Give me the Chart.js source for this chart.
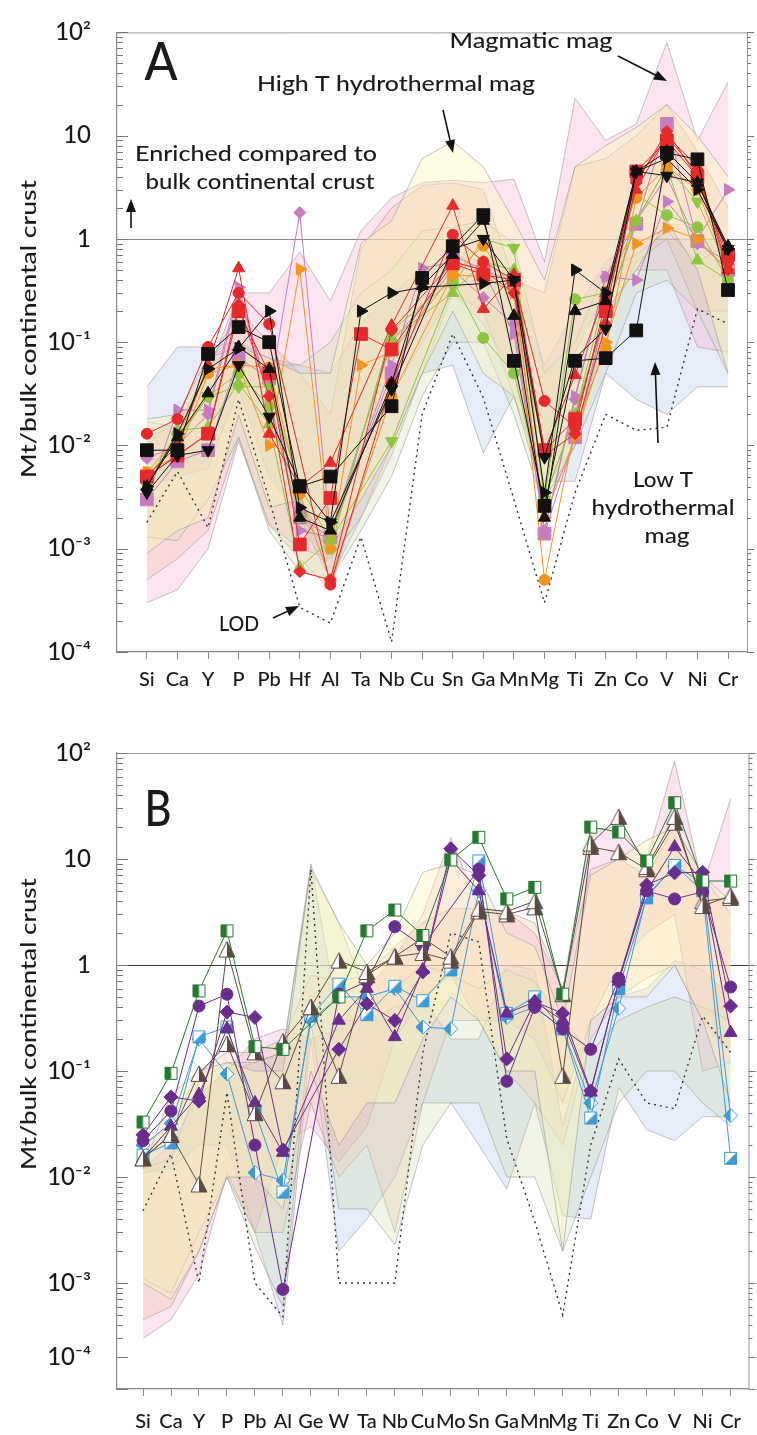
<!DOCTYPE html>
<html>
<head>
<meta charset="utf-8">
<script src="https://cdn.jsdelivr.net/npm/chart.js@4.4.0/dist/chart.umd.min.js"></script>
<style>
  body { margin: 0; background: #fff; width: 757px; height: 1435px; overflow: hidden; }
  canvas { position: absolute; left: 0; }
  #chartA { top: 0; }
  #chartB { top: 700px; }
</style>
</head>
<body>
<canvas id="chartA" width="757" height="700"></canvas>
<canvas id="chartB" width="757" height="735"></canvas>
<script>
// ---- categories ----
const catsA = ['Si','Ca','Y','P','Pb','Hf','Al','Ta','Nb','Cu','Sn','Ga','Mn','Mg','Ti','Zn','Co','V','Ni','Cr'];
const catsB = ['Si','Ca','Y','P','Pb','Al','Ge','W','Ta','Nb','Cu','Mo','Sn','Ga','Mn','Mg','Ti','Zn','Co','V','Ni','Cr'];
const decadeLabels = {'-4':'10⁻⁴','-3':'10⁻³','-2':'10⁻²','-1':'10⁻¹','0':'1','1':'10','2':'10²'};

// ---- panel A fields (upper / lower) ----
const pinkUpA   = [0.012,0.016,0.05,0.3,0.3,0.75,0.25,1.2,2.5,3.5,3.7,3.5,3.8,0.6,23,9,13,80,9,33];
const pinkLoA   = [0.0003,0.0004,0.001,0.011,0.0017,0.001,0.0008,0.002,0.008,0.05,0.3,0.15,0.05,0.01,0.08,0.3,0.5,0.5,0.09,0.08];
const yellowUpA = [0.018,0.02,0.07,0.09,0.07,0.05,0.05,0.9,1.5,6,8.8,5,1.5,0.4,5,8,12,20,10,4];
const yellowLoA = [0.0009,0.0015,0.002,0.02,0.0025,0.003,0.001,0.003,0.01,0.05,0.2,0.05,0.03,0.003,0.01,0.2,0.5,1.5,0.5,0.05];
const salmonUpA = [0.01,0.02,0.06,0.2,0.1,0.05,0.02,0.8,2,3.3,3.5,3,0.4,0.3,5,6,10,20,7,2];
const salmonLoA = [0.0005,0.0008,0.0015,0.012,0.0017,0.0008,0.0004,0.004,0.03,0.1,0.3,0.2,0.03,0.004,0.01,0.15,0.6,1,0.2,0.2];
const greenUpA  = [0.017,0.015,0.06,0.09,0.06,0.06,0.1,0.3,0.5,1.2,1.3,1.5,0.9,0.05,0.1,0.5,0.7,1.2,0.6,0.9];
const greenLoA  = [0.0013,0.0012,0.003,0.012,0.0015,0.0006,0.0005,0.0015,0.005,0.03,0.1,0.1,0.02,0.0025,0.01,0.05,0.3,0.4,0.2,0.05];
const blueUpA   = [0.037,0.09,0.09,0.1,0.07,0.06,0.05,0.15,0.3,0.5,0.7,0.6,0.5,0.06,0.2,0.6,1,1,1,1];
const blueLoA   = [0.004,0.005,0.006,0.035,0.005,0.002,0.0005,0.002,0.01,0.05,0.06,0.0085,0.03,0.0045,0.0045,0.05,0.028,0.02,0.037,0.037];
const lodA      = [0.0018,0.0056,0.0016,0.028,0.003,0.00027,0.00019,0.0013,0.000125,0.02,0.12,0.029,0.003,0.0003,0.0035,0.02,0.014,0.015,0.21,0.15];

// ---- panel A samples ----
const redCircleA     = [0.013,0.018,0.09,0.3,0.15,null,0.00045,null,0.04,null,1.1,0.6,0.4,0.027,0.015,0.25,3.7,9.8,4.4,0.6];
const redTriA        = [0.005,0.01,0.06,0.52,0.013,0.004,0.0068,null,0.145,null,2.1,0.21,0.45,0.009,0.048,0.3,3,10,5,0.5];
const redSquareA     = [0.005,0.008,0.013,0.2,0.05,0.0011,0.0031,0.12,0.085,null,0.58,0.45,0.4,0.009,0.018,0.2,4.5,9,4,0.7];
const redDiamondA    = [0.005,0.008,0.013,0.23,0.03,0.0006,0.0005,null,0.13,null,0.6,0.5,0.3,0.008,0.013,0.15,3.5,11,4,0.5];
const orangeTriA     = [0.0055,0.012,0.055,0.06,0.01,0.51,0.001,0.06,0.08,null,0.45,0.43,0.3,0.002,0.012,0.1,0.9,1.27,1.0,0.5];
const orangeCircleA  = [0.0055,0.008,0.05,0.06,0.057,0.0034,0.0005,null,0.03,null,0.45,0.86,0.31,0.0005,0.015,0.087,2.5,5,3,0.5];
const greenCircleA   = [0.005,0.011,0.03,0.05,0.024,0.002,0.001,null,0.13,null,0.4,0.11,0.05,0.003,0.26,0.3,2.7,1.7,1.3,0.4];
const greenTriA      = [0.004,0.014,0.015,0.04,0.016,0.00066,0.0012,null,0.11,null,0.3,0.6,0.5,0.003,0.02,0.3,1.5,5,0.62,0.4];
const greenTriDownA  = [0.004,0.012,0.03,0.037,0.037,0.004,0.0012,null,0.011,null,0.35,1.0,0.82,0.003,0.02,0.2,1.5,5,2.3,0.5];
const mauveTriA      = [0.003,0.022,0.022,0.34,0.03,0.0015,0.0013,null,0.06,0.52,0.6,0.5,0.12,0.0015,0.03,0.43,0.4,2.3,1.0,3.0];
const mauveDiamondA  = [0.0075,0.01,0.02,0.3,0.03,1.8,0.0014,null,0.1,null,0.5,0.27,0.15,0.0015,0.028,0.43,1.5,4,0.9,0.6];
const mauveSquareA   = [0.003,0.007,0.009,0.07,0.045,0.002,0.0013,null,0.05,null,0.7,0.5,0.38,0.0014,0.012,0.2,1.4,13,0.95,0.5];
const blackTriRightA = [0.004,0.013,0.055,0.087,0.2,0.0025,0.0018,0.2,0.3,0.34,null,0.37,0.4,0.0035,0.5,0.3,4.5,6,3,0.8];
const blackTriDownA  = [0.0035,0.008,0.009,0.06,0.019,0.0043,0.0018,null,0.035,null,0.8,1.0,0.4,0.0077,0.07,0.135,4.5,4.1,3.5,0.8];
const blackTriUpA    = [0.004,0.012,0.032,0.09,0.055,0.002,0.0015,null,0.04,0.35,0.7,1.5,0.18,0.002,0.2,0.25,4.5,7,3.5,0.85];
const blackSquareA   = [0.009,0.009,0.077,0.14,0.1,0.004,0.005,null,0.024,0.42,0.85,1.7,0.066,0.0026,0.066,0.07,0.13,6.8,5.9,0.32];

// ---- panel B fields ----
const pinkUpB   = [0.012,0.02,0.06,0.1,0.2,0.25,0.2,0.25,0.6,1.2,3,16,3.5,3.2,2,0.6,19,20,10,84,5.5,37];
const pinkLoB   = [0.0003,0.00045,0.0012,0.011,0.003,0.02,0.03,0.014,0.03,0.2,0.5,0.8,0.3,0.3,0.2,0.05,0.3,1,2,3,0.1,0.12];
const yellowUpB = [0.012,0.06,0.1,0.12,0.1,0.1,8.5,2.5,1,2,7.5,9,7,2,1.5,0.3,7,10,15,20,7,4];
const yellowLoB = [0.001,0.0007,0.002,0.01,0.01,0.005,0.1,0.02,0.05,0.05,0.2,0.5,0.3,0.1,0.1,0.002,0.3,0.5,0.5,1,0.3,0.05];
const salmonUpB = [0.02,0.03,0.1,0.15,0.15,0.2,0.8,0.7,0.8,1.5,2.5,3.4,3.4,3.2,2.5,0.6,8,10,7,20,7,3];
const salmonLoB = [0.00045,0.0006,0.002,0.01,0.003,0.003,0.05,0.01,0.02,0.003,0.05,0.3,0.3,0.1,0.05,0.02,0.2,0.5,0.75,1.0,0.3,0.15];
const greenUpB  = [0.012,0.015,0.08,0.12,0.12,0.15,8,2.5,0.5,0.6,1,0.8,0.6,0.9,0.7,0.3,0.15,0.3,0.4,0.5,0.4,0.3];
const greenLoB  = [0.0011,0.0008,0.003,0.01,0.0022,0.0006,0.3,0.005,0.005,0.0023,0.02,0.05,0.05,0.01,0.01,0.002,0.01,0.05,0.1,0.1,0.05,0.03];
const blueUpB   = [0.015,0.03,0.06,0.1,0.12,0.15,9,0.3,0.3,0.4,0.5,0.2,0.2,1.0,0.9,0.03,0.3,0.5,0.6,1.1,0.9,0.5];
const blueLoB   = [0.011,0.012,0.02,0.02,0.003,0.0004,0.2,0.002,0.004,0.01,0.05,0.05,0.02,0.0077,0.05,0.0043,0.004,0.07,0.028,0.022,0.037,0.037];
const lodB      = [0.0048,0.0165,0.001,0.063,0.001,0.00048,8,0.001,0.001,0.001,0.15,2,1.65,0.023,0.0038,0.0005,0.02,0.13,0.05,0.044,0.33,0.15];

// ---- panel B samples ----
const greenSqB    = [0.033,0.095,0.57,2.1,0.17,0.16,null,0.5,2.1,3.3,1.9,9.8,16,4.2,5.4,0.53,20,18,9.6,34,6.2,6.2];
const brownTri1B  = [0.015,0.025,0.0085,1.4,0.15,0.08,0.4,1.1,0.86,1.2,1.8,1.2,3.4,3.2,4.0,0.53,14,25,8.4,25,3.6,4.5];
const brownTri2B  = [0.015,0.025,0.094,0.18,0.04,0.19,0.4,0.09,0.8,1.2,1.3,1.1,3.2,3.0,3.5,0.09,13,11.6,8,22,4,4.3];
const purpCircleB = [0.022,0.042,0.41,0.53,0.02,0.00087,null,0.53,0.7,2.3,1.5,null,8,0.08,0.4,0.25,0.16,0.75,5,4.2,4.9,0.62];
const purpDiaB    = [0.025,0.057,0.052,0.36,0.32,0.018,null,0.16,0.43,0.3,0.86,12.5,7,0.13,0.45,0.35,0.065,0.7,5.7,7.4,7.5,0.41];
const purpTriB    = [0.015,0.03,0.06,0.25,0.05,0.017,null,0.3,0.6,0.21,0.9,10,5,0.35,0.45,0.3,0.063,0.7,5,13,6,0.23];
const blueSqB     = [0.016,0.021,0.21,0.26,0.042,0.0072,0.33,0.66,0.34,0.63,0.46,0.9,9.6,0.35,0.5,0.25,0.036,0.6,4.3,8.7,5,0.015];
const blueDiaB    = [0.02,0.032,0.2,0.094,0.011,0.0093,0.3,0.5,0.5,0.6,0.26,0.25,5,0.32,0.4,0.25,0.05,0.39,4.5,8.6,6,0.038];

// colours
const RED = '#e8282b', ORANGE = '#f7941d', GREEN = '#8dc63f', MAUVE = '#c77cc2', BLACK = '#111111';
const DKGREEN = '#237a2f', BROWN = '#5b4a42', PURPLE = '#6a2d8f', BLUE = '#3b9bd8';
const EDGE = 'rgba(150,150,150,0.55)';
const FONT = "Lato, 'Open Sans', sans-serif";
const FILL_YELLOW = 'rgba(250,246,185,0.42)';
const FILL_GREEN  = 'rgba(205,218,170,0.28)';
const FILL_SALMON = 'rgba(246,180,145,0.24)';
const FILL_PINK   = 'rgba(244,165,208,0.3)';
const FILL_BLUE   = 'rgba(198,210,240,0.42)';

function pts(vals) {
  return vals.map((v, i) => ({ x: i, y: v }));
}

function series(vals, color, style, radius, rotation) {
  return {
    data: pts(vals),
    borderColor: color,
    backgroundColor: color,
    pointBackgroundColor: color,
    pointBorderColor: color,
    borderWidth: 1,
    pointStyle: style,
    pointRadius: radius || 6,
    pointRotation: rotation || 0,
    pointBorderWidth: 1,
    spanGaps: true,
    fill: false,
    order: 0,
  };
}

function field(up, lo, fillColor) {
  return [
    { data: pts(up), borderColor: EDGE, borderWidth: 1, pointRadius: 0, fill: false, order: 10 },
    { data: pts(lo), borderColor: EDGE, borderWidth: 1, pointRadius: 0, fill: '-1', backgroundColor: fillColor, order: 10 },
  ];
}

function lod(vals) {
  return { data: pts(vals), borderColor: '#333', borderWidth: 1.4, borderDash: [2, 4], pointRadius: 0, fill: false, order: 5 };
}

// half-filled markers for panel B
function halfMarker(shape, color, s, half) {
  const c = document.createElement('canvas');
  c.width = c.height = s + 2;
  const g = c.getContext('2d');
  const m = (s + 2) / 2, r = s / 2;
  const path = () => {
    g.beginPath();
    if (shape === 'rect') g.rect(m - r + 0.5, m - r + 0.5, s - 1, s - 1);
    if (shape === 'tri') { g.moveTo(m, 1); g.lineTo(s + 1, s + 0.5); g.lineTo(1, s + 0.5); g.closePath(); }
    if (shape === 'dia') { g.moveTo(m, 1); g.lineTo(s + 1, m); g.lineTo(m, s + 1); g.lineTo(1, m); g.closePath(); }
  };
  g.fillStyle = '#fff'; path(); g.fill();
  g.save(); path(); g.clip(); g.fillStyle = color;
  if (half === 'left') g.fillRect(0, 0, m, s + 2);
  if (half === 'right') g.fillRect(m, 0, m, s + 2);
  if (half === 'diag') { g.beginPath(); g.moveTo(s + 2, 0); g.lineTo(s + 2, s + 2); g.lineTo(0, s + 2); g.closePath(); g.fill(); }
  g.restore();
  g.strokeStyle = color; g.lineWidth = 1; path(); g.stroke();
  return c;
}

const datasetsA = [
  series(blackSquareA, BLACK, 'rect', 9),
  series(blackTriUpA, BLACK, 'triangle', 7),
  series(blackTriDownA, BLACK, 'triangle', 7, 180),
  series(blackTriRightA, BLACK, 'triangle', 7, 90),
  series(redCircleA, RED, 'circle', 5.5),
  series(redTriA, RED, 'triangle', 7),
  series(redSquareA, RED, 'rect', 9),
  series(redDiamondA, RED, 'rectRot', 6),
  series(orangeTriA, ORANGE, 'triangle', 7, 90),
  series(orangeCircleA, ORANGE, 'circle', 5.5),
  series(greenCircleA, GREEN, 'circle', 5.5),
  series(greenTriA, GREEN, 'triangle', 7),
  series(greenTriDownA, GREEN, 'triangle', 7, 180),
  series(mauveTriA, MAUVE, 'triangle', 7, 90),
  series(mauveDiamondA, MAUVE, 'rectRot', 6),
  series(mauveSquareA, MAUVE, 'rect', 9),
  lod(lodA),
  ...field(yellowUpA, yellowLoA, FILL_YELLOW),
  ...field(greenUpA, greenLoA, FILL_GREEN),
  ...field(salmonUpA, salmonLoA, FILL_SALMON),
  ...field(pinkUpA, pinkLoA, FILL_PINK),
  ...field(blueUpA, blueLoA, FILL_BLUE),
];

const datasetsB = [
  series(greenSqB, DKGREEN, halfMarker('rect', DKGREEN, 13, 'left')),
  series(brownTri1B, BROWN, halfMarker('tri', BROWN, 16, 'right')),
  series(brownTri2B, BROWN, halfMarker('tri', BROWN, 16, 'right')),
  series(purpCircleB, PURPLE, 'circle', 6),
  series(purpDiaB, PURPLE, 'rectRot', 7),
  series(purpTriB, PURPLE, 'triangle', 7.5),
  series(blueSqB, BLUE, halfMarker('rect', BLUE, 13, 'diag')),
  series(blueDiaB, BLUE, halfMarker('dia', BLUE, 14, 'left')),
  lod(lodB),
  ...field(yellowUpB, yellowLoB, FILL_YELLOW),
  ...field(greenUpB, greenLoB, FILL_GREEN),
  ...field(salmonUpB, salmonLoB, FILL_SALMON),
  ...field(pinkUpB, pinkLoB, FILL_PINK),
  ...field(blueUpB, blueLoB, FILL_BLUE),
];

// annotations in canvas coordinates
const notes = {
  chartA: {
    title: { x: 29, y: 329, w: 298 },
    oneColor: '#8a8a8a',
    texts: [
      { t: 'A', x: 161, y: 63, w: 33, size: 52 },
      { t: 'Magmatic mag', x: 531, y: 41, w: 163, size: 22 },
      { t: 'High T hydrothermal mag', x: 396, y: 84, w: 278, size: 22 },
      { t: 'Enriched compared to', x: 256, y: 154, w: 242, size: 22 },
      { t: 'bulk continental crust', x: 260, y: 182, w: 229, size: 22 },
      { t: 'LOD', x: 239, y: 624, w: 40, size: 22 },
      { t: 'Low T', x: 663, y: 480, w: 60, size: 22 },
      { t: 'hydrothermal', x: 663, y: 508, w: 143, size: 22 },
      { t: 'mag', x: 667, y: 536, w: 45, size: 22 },
    ],
    arrows: [
      [618, 56, 667, 81],
      [443, 110, 453, 153],
      [131, 228, 131, 199],
      [273, 618, 299, 606],
      [658, 443, 655, 362],
    ],
    extraMajor: [],
  },
  chartB: {
    title: { x: 29, y: 324, w: 292 },
    oneColor: '#3a3a3a',
    texts: [
      { t: 'B', x: 158, y: 110, w: 27, size: 50 },
    ],
    arrows: [],
    extraMajor: [2e-4],
  },
};

function fitText(ctx, t, cx, cy, w, size) {
  ctx.font = `500 ${size}px ${FONT}`;
  const m = ctx.measureText(t).width;
  ctx.save();
  ctx.translate(cx, cy);
  ctx.scale(w / m, 1);
  ctx.textAlign = 'center';
  ctx.textBaseline = 'middle';
  ctx.fillText(t, 0, 0);
  ctx.restore();
}

function arrow(ctx, x1, y1, x2, y2) {
  const a = Math.atan2(y2 - y1, x2 - x1), L = 13, W = 5;
  ctx.beginPath();
  ctx.moveTo(x1, y1);
  ctx.lineTo(x2 - L * 0.8 * Math.cos(a), y2 - L * 0.8 * Math.sin(a));
  ctx.stroke();
  ctx.beginPath();
  ctx.moveTo(x2, y2);
  ctx.lineTo(x2 - L * Math.cos(a) + W * Math.sin(a), y2 - L * Math.sin(a) - W * Math.cos(a));
  ctx.lineTo(x2 - L * Math.cos(a) - W * Math.sin(a), y2 - L * Math.sin(a) + W * Math.cos(a));
  ctx.closePath();
  ctx.fill();
}

const decor = {
  id: 'decor',
  beforeDatasetsDraw(chart) {
    const n = notes[chart.canvas.id];
    const { ctx, chartArea: a } = chart;
    const y1 = Math.round(chart.scales.y.getPixelForValue(1)) + 0.5;
    ctx.save();
    ctx.strokeStyle = n.oneColor;
    ctx.lineWidth = 1.2;
    ctx.beginPath(); ctx.moveTo(a.left, y1); ctx.lineTo(a.right, y1); ctx.stroke();
    ctx.restore();
  },
  afterDraw(chart) {
    const n = notes[chart.canvas.id];
    const { ctx, chartArea: a } = chart;
    const y = chart.scales.y;
    ctx.save();
    // frame top and right
    ctx.strokeStyle = '#9a9a9a';
    ctx.lineWidth = 1;
    ctx.beginPath();
    ctx.moveTo(a.left, a.top + 0.5); ctx.lineTo(a.right + 0.5, a.top + 0.5); ctx.lineTo(a.right + 0.5, a.bottom);
    ctx.stroke();
    // log ticks, inward on left, outward on right
    ctx.strokeStyle = '#777';
    ctx.beginPath();
    for (let d = -4; d <= 2; d++) {
      for (let k = 1; k <= 9; k++) {
        if (d === 2 && k > 1) break;
        const v = k * Math.pow(10, d);
        const py = Math.round(y.getPixelForValue(v)) + 0.5;
        const major = k === 1 || n.extraMajor.some(e => Math.abs(e - v) < 1e-9);
        ctx.moveTo(a.left, py); ctx.lineTo(a.left + (major ? 11 : 6), py);
        ctx.moveTo(a.right, py); ctx.lineTo(a.right + (major ? 7 : 4), py);
      }
    }
    ctx.stroke();
    // axis title
    ctx.fillStyle = '#1a1a1a';
    ctx.save();
    ctx.translate(n.title.x, n.title.y);
    ctx.rotate(-Math.PI / 2);
    fitText(ctx, 'Mt/bulk continental crust', 0, 0, n.title.w, 22);
    ctx.restore();
    // labels and arrows
    n.texts.forEach(o => fitText(ctx, o.t, o.x, o.y, o.w, o.size));
    ctx.strokeStyle = '#111';
    ctx.fillStyle = '#111';
    ctx.lineWidth = 1.6;
    n.arrows.forEach(p => arrow(ctx, p[0], p[1], p[2], p[3]));
    ctx.restore();
  },
};

function makeChart(id, cats, datasets, xMin, xMax, padTop, xAxisH, xPad, yTickVals, yLabel) {
  return new Chart(document.getElementById(id), {
    type: 'line',
    data: { datasets },
    plugins: [decor],
    options: {
      responsive: false,
      animation: false,
      devicePixelRatio: 1,
      events: [],
      layout: { padding: { top: padTop, right: 7, left: 0, bottom: 0 } },
      plugins: { legend: { display: false }, tooltip: { enabled: false } },
      elements: { line: { tension: 0 } },
      scales: {
        x: {
          type: 'linear',
          min: xMin,
          max: xMax,
          afterBuildTicks: s => { s.ticks = cats.map((c, i) => ({ value: i })); },
          afterFit: s => { s.height = xAxisH; },
          grid: { drawOnChartArea: false, tickLength: 7, color: '#888' },
          border: { color: '#888', width: 1.2 },
          ticks: {
            autoSkip: false, maxRotation: 0, minRotation: 0, padding: xPad,
            color: '#1a1a1a', font: { family: FONT, size: 20, weight: '500' },
            callback: v => cats[v],
          },
        },
        y: {
          type: 'logarithmic',
          min: 1e-4,
          max: 100,
          afterBuildTicks: s => { s.ticks = yTickVals.map(v => ({ value: v, major: true })); },
          afterFit: s => { s.width = 117; },
          grid: { display: false },
          border: { color: '#888', width: 1.2 },
          ticks: {
            padding: 18, color: '#1a1a1a', font: { family: FONT, size: 24, weight: '500' },
            callback: v => yLabel(v),
          },
        },
      },
    },
  });
}

const decadesA = [1e-4, 1e-3, 1e-2, 1e-1, 1, 10, 100];
const decadesB = [1e-4, 2e-4, 1e-3, 1e-2, 1e-1, 1, 10, 100];

makeChart('chartA', catsA, datasetsA, -0.976, 19.62, 15, 48, 9, decadesA,
  v => decadeLabels[Math.round(Math.log10(v))]);

makeChart('chartB', catsB, datasetsB, -0.93, 21.64, 53, 46, 14, decadesB,
  v => {
    if (Math.abs(v - 1e-4) < 1e-9) return '';
    if (Math.abs(v - 2e-4) < 1e-9) return decadeLabels['-4'];
    return decadeLabels[Math.round(Math.log10(v))];
  });
</script>
</body>
</html>
